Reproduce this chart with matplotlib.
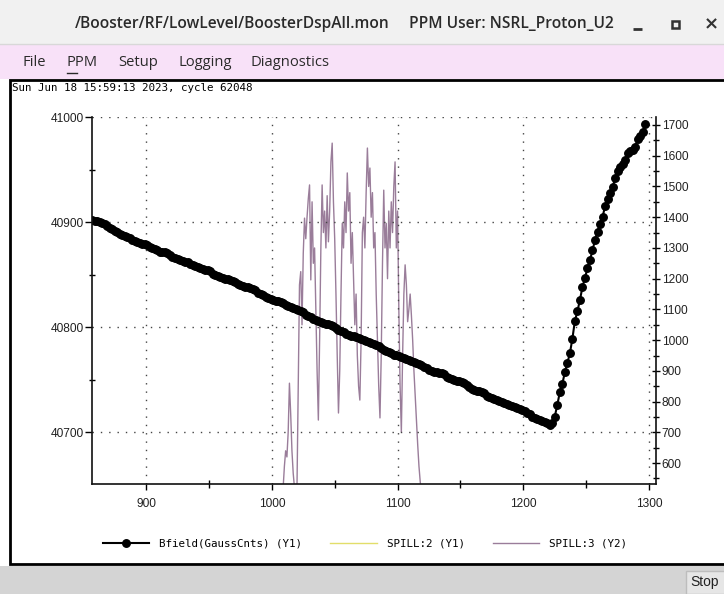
import numpy as np
import matplotlib
matplotlib.use("Agg")
import matplotlib.pyplot as plt
from matplotlib.patches import Rectangle
from matplotlib.lines import Line2D

# ---------------- data ----------------
title_path = "/Booster/RF/LowLevel/BoosterDspAll.mon"
title_user = "PPM User: NSRL_Proton_U2"
menu_items = ["File", "PPM", "Setup", "Logging", "Diagnostics"]
timestamp = "Sun Jun 18 15:59:13 2023, cycle 62048"

x_ticks = [900, 1000, 1100, 1200, 1300]
x_minor = [950, 1050, 1150, 1250]
y1_ticks = [40700, 40800, 40900, 41000]
y1_minor = [40750, 40850, 40950]
y2_ticks = [600, 700, 800, 900, 1000, 1100, 1200, 1300, 1400, 1500, 1600, 1700]
y2_minor = [550, 650, 750, 850, 950, 1050, 1150, 1250, 1350, 1450, 1550, 1650]

# Bfield(GaussCnts) (Y1), sampled every 2 turns starting at 857
bfield_start, bfield_step = 857, 2
bfield = [
    40902, 40901, 40901, 40900, 40899, 40898, 40896, 40894, 40893, 40892,
    40891, 40889, 40888, 40887, 40886, 40885, 40883, 40882, 40881, 40880,
    40879, 40879, 40878, 40876, 40875, 40874, 40873, 40872, 40872, 40872,
    40871, 40869, 40867, 40866, 40865, 40864, 40863, 40862, 40862, 40860,
    40859, 40858, 40857, 40856, 40855, 40854, 40854, 40853, 40851, 40850,
    40849, 40848, 40847, 40846, 40846, 40845, 40844, 40843, 40841, 40840,
    40839, 40838, 40838, 40837, 40836, 40835, 40833, 40832, 40831, 40829,
    40828, 40827, 40826, 40825, 40825, 40824, 40823, 40821, 40820, 40819,
    40818, 40817, 40816, 40815, 40814, 40812, 40811, 40810, 40808, 40807,
    40806, 40805, 40804, 40803, 40803, 40802, 40801, 40799, 40797, 40796,
    40795, 40794, 40793, 40792, 40792, 40791, 40790, 40789, 40788, 40787,
    40786, 40785, 40784, 40783, 40782, 40780, 40778, 40777, 40776, 40775,
    40774, 40774, 40773, 40772, 40771, 40770, 40769, 40768, 40767, 40766,
    40765, 40764, 40762, 40761, 40759, 40758, 40757, 40757, 40756, 40756,
    40755, 40753, 40752, 40751, 40750, 40749, 40749, 40748, 40747, 40745,
    40743, 40741, 40740, 40739, 40739, 40738, 40737, 40735, 40734, 40733,
    40732, 40731, 40730, 40729, 40728, 40727, 40726, 40725, 40724, 40723,
    40722, 40721, 40720, 40718, 40717, 40715, 40714, 40713, 40712, 40711,
    40710, 40709, 40707, 40709, 40715, 40726, 40738, 40746, 40757, 40766,
    40775, 40789, 40806, 40815, 40826, 40838, 40847, 40856, 40864, 40873,
    40883, 40891, 40898, 40905, 40915, 40922, 40928, 40933, 40942, 40949,
    40952, 40955, 40959, 40966, 40968, 40969, 40971, 40979, 40982, 40986,
    40993,
]

# SPILL:2 (Y1) - off scale, nothing visible
spill2_x = []
spill2 = []

# SPILL:3 (Y2), one sample per turn starting at 1005
spill3_start = 1005
spill3 = [
    470, 460, 475, 480, 520, 590, 640, 620, 700, 860,
    760, 640, 567, 520, 490, 520, 850, 1180, 1223, 1050,
    1283, 1397, 1330, 1400, 1460, 1505, 1196, 1450, 1250, 1300,
    1100, 900, 740, 1000, 1300, 1505, 1350, 1420, 1300, 1470,
    1320, 1420, 1580, 1641, 1450, 1330, 1150, 950, 763, 900,
    1150, 1380, 1300, 1450, 1350, 1544, 1420, 1480, 1250, 1350,
    1200, 1050, 1150, 950, 850, 805, 1000, 1350, 1400, 1300,
    1480, 1625, 1500, 1560, 1400, 1480, 1300, 1350, 1150, 1000,
    850, 747, 950, 1250, 1488, 1300, 1380, 1200, 1420, 1300,
    1450, 1350, 1500, 1580, 1300, 1420, 1100, 850, 701, 950,
    1150, 1245, 1180, 1060, 1100, 1150, 1080, 1000, 900, 820,
    740, 660, 590, 540, 500, 470, 460, 455,
]

bfield_x = bfield_start + bfield_step * np.arange(len(bfield))
spill3_x = spill3_start + np.arange(len(spill3))

# ---------------- figure ----------------
W, H = 724, 594
fig = plt.figure(figsize=(W / 100, H / 100), dpi=100)
fig.patch.set_facecolor("#ffffff")

def fy(py):
    return 1 - py / H

def fx(px):
    return px / W

# title bar
fig.add_artist(Rectangle((0, fy(44)), 1, 44 / H, transform=fig.transFigure,
                         facecolor="#f1f1f1", edgecolor="none", zorder=-2))
fig.add_artist(Line2D([0, 1], [fy(44), fy(44)], transform=fig.transFigure,
                      color="#d8d8d8", lw=1, zorder=-1.9))
fig.text(fx(75), fy(24), title_path, ha="left", va="center",
         fontsize=11.2, family="Open Sans", weight="semibold", color="#2a2a2a")
fig.text(fx(409), fy(24), title_user, ha="left", va="center",
         fontsize=11.2, family="Open Sans", weight="semibold", color="#2a2a2a")
fig.add_artist(Line2D([fx(633), fx(642)], [fy(29), fy(29)], transform=fig.transFigure,
                      color="#333333", lw=2, solid_capstyle="butt"))
fig.add_artist(Rectangle((fx(672), fy(28)), 7 / W, 7 / H, transform=fig.transFigure,
                         facecolor="none", edgecolor="#333333", lw=1.8))
fig.text(fx(711.5), fy(24), "\u00d7", ha="center", va="center", fontsize=13,
         family="DejaVu Sans", weight="bold", color="#333333")

# menu bar
fig.add_artist(Rectangle((0, fy(79)), 1, 35 / H, transform=fig.transFigure,
                         facecolor="#f8e1f8", edgecolor="none", zorder=-2))
menu_x = [22, 67, 118, 178, 251]
for name, px in zip(menu_items, menu_x):
    fig.text(fx(px), fy(62), name, ha="left", va="center", fontsize=10.6,
             family="Open Sans", color="#2a2a2a")
fig.add_artist(Line2D([fx(67), fx(77)], [fy(73), fy(73)], transform=fig.transFigure,
                      color="#2a2a2a", lw=1))

# panel frame
fig.add_artist(Rectangle((fx(10), fy(564)), 1.0, (564 - 80) / H, transform=fig.transFigure,
                         facecolor="white", edgecolor="#000000", lw=2, zorder=-1))
fig.text(fx(12), fy(88), timestamp, ha="left", va="center", fontsize=7.8,
         family="DejaVu Sans Mono", color="#000000")

# bottom bar
fig.add_artist(Rectangle((0, 0), 1, (H - 566) / H, transform=fig.transFigure,
                         facecolor="#d4d4d4", edgecolor="none", zorder=-0.8))
fig.add_artist(Rectangle((fx(686), 0), fx(50), (H - 571) / H, transform=fig.transFigure,
                         facecolor="#e6e6e6", edgecolor="#bdbdbd", lw=1, zorder=-0.7))
fig.text(fx(690), fy(582), "Stop", ha="left", va="center", fontsize=10,
         family="Liberation Sans", color="#222222")

# ---------------- axes ----------------
L, R, T, B = 92, 656, 117, 484
ax = fig.add_axes([fx(L), fy(B), (R - L) / W, (B - T) / H])
ax2 = ax.twinx()
ax2.set_zorder(1)
ax.set_zorder(2)
ax.patch.set_visible(False)
ax2.patch.set_visible(False)

ax.set_xlim(857, 1305.5)
ax.set_ylim(40650.8, 41000)
ax2.set_ylim(532, 1726)

tick_font = dict(family="Liberation Sans", size=8.6)
lab_color = "#222222"

ax.set_xticks(x_ticks)
ax.set_xticks(x_minor, minor=True)
ax.set_xticklabels([str(v) for v in x_ticks], fontdict=tick_font, color=lab_color)
ax.set_yticks(y1_ticks)
ax.set_yticks(y1_minor, minor=True)
ax.set_yticklabels([str(v) for v in y1_ticks], fontdict=tick_font, color=lab_color)
ax2.set_yticks(y2_ticks)
ax2.set_yticks(y2_minor, minor=True)
ax2.set_yticklabels([str(v) for v in y2_ticks], fontdict=tick_font, color=lab_color)

ax.tick_params(axis="x", which="major", direction="out", length=4, width=1, pad=6)
ax.tick_params(axis="x", which="minor", direction="inout", length=6, width=1)
ax.tick_params(axis="y", which="major", direction="out", length=5, width=1, pad=1)
ax.tick_params(axis="y", which="minor", direction="inout", length=5, width=1)
ax2.tick_params(axis="y", which="major", direction="inout", length=6, width=1, pad=1)
ax2.tick_params(axis="y", which="minor", direction="inout", length=5, width=1)

for s in ["top", "right"]:
    ax.spines[s].set_visible(False)
for s in ["top", "left", "bottom"]:
    ax2.spines[s].set_visible(False)
for sp in [ax.spines["left"], ax.spines["bottom"], ax2.spines["right"]]:
    sp.set_linewidth(1.2)
    sp.set_color("#111111")

ax.grid(True, which="major", linestyle=(0, (1, 5)), color="#444444", lw=1)

# series
l_spill3, = ax2.plot(spill3_x, spill3, color="#9a7d9a", lw=1.0, label="SPILL:3 (Y2)")
l_spill2, = ax.plot(spill2_x, spill2, color="#e2de6a", lw=1, label="SPILL:2 (Y1)")
l_bfield, = ax.plot(bfield_x, bfield, color="black", lw=1.5, marker="o",
                    markersize=5.4, label="Bfield(GaussCnts) (Y1)")

leg = fig.legend(handles=[l_bfield, l_spill2, l_spill3], loc="center",
                 bbox_to_anchor=(fx(365), fy(544)), ncol=3, frameon=False,
                 prop=dict(family="DejaVu Sans Mono", size=7.8),
                 handlelength=4.3, handletextpad=0.9, columnspacing=2.6)

fig.savefig("out.png", dpi=100)
